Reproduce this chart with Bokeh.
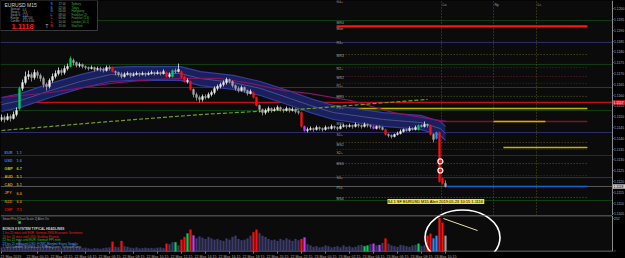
from bokeh.plotting import figure
from bokeh.models import Range1d, FixedTicker, Label, ColumnDataSource, NumeralTickFormatter, LinearAxis
from bokeh.layouts import column
from bokeh.embed import file_html
from bokeh.resources import INLINE
from bokeh.core.properties import value

# ---------------- data: EURUSD M15 candles (bar index 0..148) ----------------
opens = [1.11487,1.11496,1.11487,1.11501,1.11492,1.11510,1.11538,1.11631,1.11658,1.11686,
 1.11695,1.11681,1.11705,1.11691,1.11677,1.11649,1.11640,1.11668,1.11686,1.11700,
 1.11714,1.11705,1.11723,1.11732,1.11760,1.11751,1.11737,1.11742,1.11732,1.11728,
 1.11723,1.11728,1.11719,1.11723,1.11719,1.11714,1.11728,1.11728,1.11709,1.11705,
 1.11695,1.11686,1.11695,1.11700,1.11691,1.11695,1.11700,1.11695,1.11700,1.11695,
 1.11700,1.11705,1.11700,1.11705,1.11700,1.11705,1.11686,1.11686,1.11714,1.11709,
 1.11709,1.11686,1.11663,1.11663,1.11626,1.11603,1.11589,1.11580,1.11594,1.11589,
 1.11603,1.11612,1.11631,1.11640,1.11649,1.11658,1.11672,1.11663,1.11644,1.11631,
 1.11621,1.11635,1.11621,1.11607,1.11612,1.11589,1.11552,1.11533,1.11519,1.11529,
 1.11538,1.11529,1.11533,1.11543,1.11533,1.11529,1.11538,1.11529,1.11533,1.11524,
 1.11519,1.11455,1.11436,1.11441,1.11445,1.11441,1.11450,1.11445,1.11441,1.11450,
 1.11445,1.11455,1.11450,1.11445,1.11455,1.11459,1.11455,1.11459,1.11455,1.11464,
 1.11459,1.11455,1.11464,1.11459,1.11455,1.11445,1.11455,1.11450,1.11441,1.11418,
 1.11413,1.11408,1.11418,1.11422,1.11431,1.11441,1.11436,1.11445,1.11441,1.11441,
 1.11459,1.11455,1.11464,1.11459,1.11418,1.11399,1.11427,1.11214,1.11191]
closes = [1.11496,1.11487,1.11501,1.11492,1.11510,1.11529,1.11631,1.11658,1.11686,1.11695,
 1.11681,1.11705,1.11691,1.11677,1.11649,1.11640,1.11668,1.11686,1.11700,1.11714,
 1.11705,1.11723,1.11732,1.11769,1.11751,1.11737,1.11742,1.11732,1.11728,1.11723,
 1.11728,1.11719,1.11723,1.11719,1.11714,1.11728,1.11723,1.11709,1.11705,1.11695,
 1.11686,1.11695,1.11700,1.11691,1.11695,1.11700,1.11695,1.11700,1.11695,1.11700,
 1.11705,1.11700,1.11705,1.11700,1.11709,1.11686,1.11695,1.11714,1.11709,1.11719,
 1.11681,1.11663,1.11668,1.11626,1.11603,1.11589,1.11580,1.11594,1.11589,1.11603,
 1.11612,1.11631,1.11640,1.11649,1.11658,1.11672,1.11663,1.11644,1.11631,1.11621,
 1.11635,1.11621,1.11607,1.11617,1.11589,1.11552,1.11533,1.11519,1.11529,1.11538,
 1.11529,1.11533,1.11543,1.11533,1.11529,1.11538,1.11529,1.11533,1.11524,1.11519,
 1.11455,1.11436,1.11441,1.11445,1.11441,1.11450,1.11445,1.11441,1.11450,1.11445,
 1.11455,1.11450,1.11445,1.11455,1.11459,1.11455,1.11459,1.11455,1.11464,1.11459,
 1.11455,1.11464,1.11459,1.11455,1.11445,1.11455,1.11450,1.11441,1.11418,1.11413,
 1.11408,1.11418,1.11422,1.11431,1.11441,1.11436,1.11445,1.11441,1.11450,1.11459,
 1.11455,1.11464,1.11459,1.11418,1.11394,1.11427,1.11200,1.11191,1.11177]
highs = [1.11510,1.11506,1.11515,1.11510,1.11524,1.11543,1.11640,1.11672,1.11709,1.11714,
 1.11705,1.11719,1.11714,1.11700,1.11686,1.11658,1.11677,1.11700,1.11714,1.11728,
 1.11723,1.11737,1.11746,1.11779,1.11769,1.11756,1.11751,1.11746,1.11737,1.11732,
 1.11737,1.11732,1.11732,1.11732,1.11728,1.11737,1.11737,1.11732,1.11714,1.11709,
 1.11705,1.11705,1.11709,1.11705,1.11705,1.11709,1.11705,1.11709,1.11705,1.11709,
 1.11714,1.11709,1.11714,1.11709,1.11719,1.11709,1.11705,1.11719,1.11723,1.11746,
 1.11714,1.11691,1.11677,1.11668,1.11631,1.11612,1.11598,1.11603,1.11603,1.11612,
 1.11621,1.11640,1.11649,1.11658,1.11668,1.11681,1.11677,1.11668,1.11649,1.11640,
 1.11644,1.11640,1.11626,1.11626,1.11617,1.11594,1.11556,1.11538,1.11538,1.11547,
 1.11543,1.11543,1.11552,1.11547,1.11538,1.11547,1.11543,1.11543,1.11538,1.11529,
 1.11524,1.11459,1.11450,1.11455,1.11450,1.11459,1.11455,1.11450,1.11459,1.11455,
 1.11464,1.11459,1.11455,1.11464,1.11468,1.11464,1.11468,1.11464,1.11473,1.11468,
 1.11464,1.11473,1.11468,1.11464,1.11459,1.11459,1.11459,1.11455,1.11445,1.11422,
 1.11418,1.11422,1.11431,1.11441,1.11445,1.11445,1.11455,1.11450,1.11459,1.11464,
 1.11464,1.11478,1.11468,1.11464,1.11422,1.11431,1.11431,1.11218,1.11205]
lows = [1.11478,1.11473,1.11482,1.11478,1.11487,1.11501,1.11529,1.11621,1.11649,1.11672,
 1.11663,1.11672,1.11677,1.11663,1.11635,1.11621,1.11631,1.11658,1.11677,1.11691,
 1.11691,1.11695,1.11714,1.11728,1.11737,1.11728,1.11728,1.11723,1.11719,1.11714,
 1.11719,1.11709,1.11714,1.11709,1.11705,1.11709,1.11714,1.11705,1.11691,1.11686,
 1.11677,1.11681,1.11691,1.11681,1.11686,1.11691,1.11686,1.11691,1.11686,1.11691,
 1.11695,1.11691,1.11695,1.11691,1.11695,1.11681,1.11681,1.11681,1.11700,1.11705,
 1.11677,1.11658,1.11654,1.11621,1.11589,1.11575,1.11566,1.11570,1.11580,1.11584,
 1.11594,1.11603,1.11621,1.11631,1.11640,1.11649,1.11654,1.11635,1.11621,1.11612,
 1.11617,1.11612,1.11598,1.11603,1.11584,1.11547,1.11519,1.11506,1.11510,1.11519,
 1.11519,1.11524,1.11529,1.11524,1.11519,1.11524,1.11519,1.11524,1.11515,1.11510,
 1.11450,1.11431,1.11427,1.11436,1.11431,1.11436,1.11436,1.11431,1.11436,1.11441,
 1.11441,1.11441,1.11436,1.11441,1.11450,1.11445,1.11450,1.11445,1.11450,1.11450,
 1.11445,1.11450,1.11450,1.11445,1.11441,1.11441,1.11441,1.11436,1.11413,1.11404,
 1.11399,1.11404,1.11413,1.11418,1.11427,1.11431,1.11431,1.11436,1.11436,1.11436,
 1.11450,1.11450,1.11450,1.11413,1.11381,1.11394,1.11195,1.11186,1.11172]
candle_signal = {6: "G", 23: "G", 37: "R", 55: "R", 57: "G", 60: "R", 61: "R", 63: "R",
                 84: "R", 85: "R", 100: "R", 101: "M", 124: "M", 128: "R", 139: "G",
                 143: "R", 145: "B", 146: "R", 147: "R"}

volumes = [30,25,35,28,40,45,90,60,50,45, 40,38,35,30,45,50,40,35,30,28,
 25,30,28,35,60,40,30,25,28,22, 20,25,22,20,25,28,30,75,35,30,
 80,40,35,28,25,30,22,25,28,24, 26,22,28,30,25,60,55,70,70,45,
 90,110,137,167,122,100,115,105,95,110, 100,90,95,85,80,100,90,110,120,95,
 85,90,100,120,147,167,140,120,110,95, 85,90,80,95,85,100,90,80,95,85,
 95,106,55,45,35,40,30,35,45,40, 30,35,40,30,45,35,40,30,35,45,
 50,40,45,55,60,45,50,65,100,60, 45,40,35,50,45,40,35,45,50,60,
 40,45,120,135,100,120,255,220,120]
volume_signal = {37: "R", 40: "R", 55: "R", 58: "G", 60: "R", 61: "R", 62: "G", 63: "R",
                 64: "M", 84: "R", 85: "R", 100: "R", 101: "M", 121: "G", 122: "G",
                 124: "M", 126: "M", 128: "R", 139: "G", 142: "R", 143: "R", 144: "B",
                 145: "B", 146: "R", 147: "R", 148: "W"}

# indicator ribbon (bar index, upper, centre, lower)
ribbon_x = [0, 6.3, 16.3, 26.3, 36.3, 44, 59.7, 66.3, 77.3, 86.3, 96.3, 103, 110.7, 127.3, 139.7, 146.3, 148]
ribbon_up = [1.11589,1.11607,1.11654,1.11695,1.11728,1.11732,1.11732,1.11709,1.11691,1.11663,
             1.11617,1.11584,1.11552,1.11519,1.11506,1.11478,1.11455]
ribbon_mid = [1.11556,1.11575,1.11621,1.11663,1.11695,1.11700,1.11700,1.11677,1.11658,1.11631,
              1.11584,1.11552,1.11519,1.11487,1.11473,1.11445,1.11422]
ribbon_lo = [1.11524,1.11543,1.11589,1.11631,1.11663,1.11668,1.11668,1.11644,1.11626,1.11598,
             1.11552,1.11519,1.11487,1.11455,1.11441,1.11413,1.11390]
slow_ma_x = [0, 16.3, 36.3, 49.7, 62, 73, 83, 94, 103, 116.3, 130.7, 146.3, 148.3]
slow_ma = [1.11589,1.11612,1.11654,1.11672,1.11677,1.11677,1.11654,1.11621,1.11607,1.11575,
           1.11519,1.11482,1.11478]
trend_x = [0, 36.3, 66.3, 103, 142]
trend = [1.11436, 1.11478, 1.11510, 1.11538, 1.11580]

# horizontal levels
full_levels = [1.11945, 1.11844, 1.11742, 1.11635, 1.11566, 1.11529, 1.11427, 1.11320, 1.11218, 1.11177, 1.11112]
full_colors = ["#123f12", "#2e2e72", "#123f12", "#2e2e72", "#c41010", "#123f12", "#2e2e72",
               "#123f12", "#2e2e72", "#5a5a5a", "#123f12"]
full_widths = [1, 1, 1, 1, 1.3, 1, 1, 1, 1, 1, 1]
dotted_levels = [1.11788, 1.11728, 1.11686, 1.11654, 1.11594, 1.11381, 1.11348, 1.11283, 1.11228, 1.11126]
dotted_colors = ["#5e5e1e", "#6e1a2c", "#6e1a2c", "#6e1a2c", "#5e5e1e", "#5e5e1e", "#2e2e78",
                 "#5e5e1e", "#2e2e78", "#5e5e1e"]
pivot_start, pivot_end = 111.7, 195.3
solid_levels = [1.11918, 1.11538, 1.11478, 1.11478, 1.11357, 1.11177]
solid_start = [111.7, 111.7, 146.3, 164.0, 167.3, 148.3]
solid_end = [195.3, 195.3, 195.3, 181.3, 195.3, 195.3]
solid_colors = ["#ff1414", "#c8b400", "#7c1222", "#c8b400", "#c8b400", "#1464d2"]
solid_widths = [2.2, 1.5, 1.6, 1.6, 1.5, 1.5]
pivot_labels = ["R4+", "MR4", "Mon", "R3+", "MR3", "R2+", "MR2", "R1+", "MR1", "PV+", "MS1", "S1+",
                "MS2", "S2+", "MS3", "S3+", "PDL", "MS4"]
pivot_label_prices = [1.12029, 1.11932, 1.11908, 1.11839, 1.11779, 1.11719, 1.11681, 1.11644,
                      1.11589, 1.11538, 1.11468, 1.11413, 1.11371, 1.11334, 1.11283, 1.11218,
                      1.11168, 1.11121]
session_x = [146.67, 164.0, 178.33]
session_names = ["Lo", "Ny", "Lc"]
alert_x = [146.3, 146.3]
alert_p = [1.11293, 1.11251]
# price markers on the scale: (price, text, box colour, text colour)
marker_price = [1.11566, 1.11177]
marker_text = ["1.1157", "1.1118"]
marker_fill = ["#e01010", "#c8c8c8"]
marker_tcol = ["#ffffff", "#000000"]

price_ticks = [1.1105, 1.1110, 1.1115, 1.1120, 1.1125, 1.1130, 1.1135, 1.1140, 1.1145, 1.1150,
               1.1155, 1.1160, 1.1165, 1.1170, 1.1175, 1.1180, 1.1185, 1.1190, 1.1195, 1.1200]
time_ticks = [0, 12, 20, 28, 36, 44, 52, 60, 68, 76, 84, 92, 100, 108, 116, 124, 132, 140, 148]
time_labels = ["21 May 2019", "22 May 00:15", "22 May 02:15", "22 May 04:15", "22 May 06:15",
               "22 May 08:15", "22 May 10:15", "22 May 12:15", "22 May 14:15", "22 May 16:15",
               "22 May 18:15", "22 May 20:15", "22 May 22:15", "23 May 00:15", "23 May 02:15",
               "23 May 04:15", "23 May 06:15", "23 May 08:15", "23 May 10:15"]

strength_ccy = ["EUR", "USD", "GBP", "AUD", "CAD", "JPY", "NZD", "CHF"]
strength_val = ["1.1", "1.6", "6.7", "5.1", "5.1", "6.6", "6.6", "7.1"]
strength_col = ["#2f7fd8", "#2f7fd8", "#c8c800", "#d0a800", "#d09000", "#d08000", "#c87000", "#e01010"]

sessions_tbl = ["Sydney", "Tokyo", "Hongkong", "Frankfurt (2)", "Frankfurt (1.4)", "London (10.1)", "NewYork"]
session_open = ["17:00", "02:00", "03:00", "08:00", "09:00", "10:00", "15:00"]
session_flag = ["S", "S", "S", "L", "L", "L", "N"]
session_flag_col = ["#3070d0", "#3070d0", "#3070d0", "#3070d0", "#d02020", "#d02020", "#d02020"]

news = ["1 hrs 21 mins until EUR: German ZEW Economic Sentiment",
        "20 hrs 21 mins until USD: Building Permits",
        "22 hrs 21 mins until EUR: German PPI m/m",
        "23 hrs 21 mins until USD: FOMC Member Evans Speaks"]
news_col = ["#e02020", "#e02020", "#20c020", "#3aa0ff"]

FONT = value("Liberation Sans")
SIG = {"G": "#00d060", "R": "#ff1010", "M": "#c040ff", "B": "#2a8cff", "W": "#a0a0a0"}

# screen helpers for overlay panels (MT4 draws these in pixel space)
def X(px):
    return (px - 1) / 3.0

def P(py):
    return 1.12038 - py * 0.0000463

def V(py):
    return (251 - py) * 275 / 36.0

n = len(opens)
idx = list(range(n))
ccol = []
for i in idx:
    if i in candle_signal:
        ccol.append(SIG[candle_signal[i]])
    elif closes[i] >= opens[i]:
        ccol.append("#ececec")
    else:
        ccol.append("#a4a4a4")
vcol = [SIG[volume_signal[i]] if i in volume_signal else "#3c3c6c" for i in idx]

# the frame spans the whole window; the price scale sits at the right edge of the chart area
xr = Range1d(-1 / 3.0, 624 / 3.0)
AXIS_X = X(611.5)


def style_axis(a, size):
    a.major_label_text_font_size = size
    a.major_label_text_font = "Liberation Sans"
    a.major_label_text_color = "#b4b4b4"
    a.axis_line_color = "#8a8a8a"
    a.major_tick_line_color = "#8a8a8a"
    a.major_tick_out = 1
    a.major_tick_in = 0
    a.minor_tick_line_color = None
    a.major_label_standoff = 1


main = figure(frame_width=625, frame_height=215, x_range=xr, y_range=Range1d(P(215), P(0)),
              x_axis_location=None, y_axis_location=None, toolbar_location=None,
              output_backend="svg", min_border=0, background_fill_color="#0b0b0b",
              border_fill_color="#000000", outline_line_color=None)
main.grid.visible = False
pax = LinearAxis(fixed_location=AXIS_X, ticker=FixedTicker(ticks=price_ticks),
                 formatter=NumeralTickFormatter(format="0.0000"))
style_axis(pax, "3.4px")
main.add_layout(pax, "right")
# axis-area background
main.quad(left=[AXIS_X], right=[X(626)], top=[P(0)], bottom=[P(215)], fill_color="#000000",
          line_color=None)

# levels
main.segment(x0=[xr.start] * len(full_levels), x1=[AXIS_X] * len(full_levels), y0=full_levels,
             y1=full_levels, line_color=full_colors, line_width=full_widths)
main.segment(x0=session_x, x1=session_x, y0=[P(215)] * 3, y1=[P(0)] * 3, line_color="#55551c",
             line_width=1, line_dash="1 2")
main.segment(x0=[pivot_start] * len(dotted_levels), x1=[pivot_end] * len(dotted_levels),
             y0=dotted_levels, y1=dotted_levels, line_color=dotted_colors, line_width=1, line_dash="1 2")
main.segment(x0=solid_start, x1=solid_end, y0=solid_levels, y1=solid_levels,
             line_color=solid_colors, line_width=solid_widths)

# ribbon and averages
main.varea(x=ribbon_x, y1=ribbon_lo, y2=ribbon_up, fill_color="#1a2262", fill_alpha=0.95)
main.line(ribbon_x, ribbon_up, line_color="#323e9c", line_width=1.2)
main.line(ribbon_x, ribbon_lo, line_color="#323e9c", line_width=1.2)
main.line(ribbon_x, ribbon_mid, line_color="#565c94", line_width=0.8)
main.line(slow_ma_x, slow_ma, line_color="#8a1262", line_width=1.2)
main.line(trend_x, trend, line_color="#6aa020", line_width=1.2, line_dash="4 2")

# candles
src = ColumnDataSource(dict(x=idx, o=opens, c=closes, h=highs, l=lows, col=ccol))
main.segment(x0="x", x1="x", y0="l", y1="h", line_color="col", line_width=0.8, source=src)
main.vbar(x="x", bottom="o", top="c", width=0.62, fill_color="col", line_color="col",
          line_width=0.4, source=src)
main.scatter(alert_x, alert_p, size=5, fill_color="#ff1010", line_color="white", line_width=1.2)

# price markers on the scale
main.quad(left=[X(612)] * 2, right=[X(626)] * 2, top=[p + 2.2 * 0.0000463 for p in marker_price],
          bottom=[p - 2.2 * 0.0000463 for p in marker_price], fill_color=marker_fill, line_color=None)
main.text(x=[X(613)] * 2, y=marker_price, text=marker_text, text_font=FONT, text_font_size="3.4px",
          text_color=marker_tcol, text_baseline="middle")

# pivot labels
main.text(x=[X(336)] * len(pivot_labels), y=pivot_label_prices, text=pivot_labels,
          text_font=FONT, text_font_size="3.5px", text_color="#a0a0a0", text_baseline="middle")
main.text(x=session_x, y=[P(4)] * 3, text=session_names, text_font=FONT, text_font_size="3.5px",
          text_color="#a0a0a0", text_baseline="middle", x_offset=1)

# info panel
main.quad(left=[-0.4], right=[X(97)], top=[P(0)], bottom=[P(30)], fill_color="#000000",
          line_color="#3a3a3a", line_width=1)
main.text(x=[X(4)], y=[P(4)], text=["EURUSD  M15"], text_font=FONT, text_font_size="5px",
          text_color="#d8d8d8", text_baseline="middle")
main.text(x=[X(10)] * 5, y=[P(8.5), P(11.5), P(14.5), P(17.5), P(20.5)],
          text=["Spread:", "Swap L:", "Swap S:", "Range:", "Candle:"], text_font=FONT,
          text_font_size="2.8px", text_color="#a0a0a0", text_baseline="middle")
main.text(x=[X(22)] * 5, y=[P(8.5), P(11.5), P(14.5), P(17.5), P(20.5)],
          text=["0.6", "-6.6", "1.04", "140  100", "4:56  4:00"], text_font=FONT,
          text_font_size="2.8px", text_color="#a0a0a0", text_baseline="middle")
main.text(x=[X(11)], y=[P(25.5)], text=["1.1118"], text_font=FONT, text_font_size="7.5px",
          text_font_style="bold", text_color="#ff1a1a", text_baseline="middle")
main.text(x=[X(45)], y=[P(26)], text=["T"], text_font=FONT, text_font_size="4.5px",
          text_color="#c0c0c0", text_baseline="middle")
rows = [P(3.5), P(7), P(10.5), P(14), P(17.5), P(21), P(25)]
main.text(x=[X(50)] * 7, y=rows, text=session_flag, text_font=FONT, text_font_size="3.4px",
          text_font_style="bold", text_color=session_flag_col, text_baseline="middle")
main.text(x=[X(58)] * 7, y=rows, text=session_open, text_font=FONT, text_font_size="2.8px",
          text_color="#b0a070", text_baseline="middle")
main.text(x=[X(71)] * 7, y=rows, text=sessions_tbl, text_font=FONT, text_font_size="2.8px",
          text_color="#3cb83c", text_baseline="middle")

# currency strength
srows = [P(152), P(160), P(168), P(176), P(184), P(192.5), P(201), P(209)]
main.text(x=[X(4)] * 8, y=srows, text=strength_ccy, text_font=FONT, text_font_size="3.8px",
          text_font_style="bold", text_color=strength_col, text_baseline="middle")
main.text(x=[X(16)] * 8, y=srows, text=strength_val, text_font=FONT, text_font_size="3.8px",
          text_font_style="bold", text_color=strength_col, text_baseline="middle")

# alert box
main.add_layout(Label(x=X(387), y=P(201), text="S4 1 SF EURUSD M15 Alert 2019.05.23 10:15  1.1116",
                      text_font="Liberation Sans", text_font_size="4px", text_color="#000000",
                      text_baseline="middle", background_fill_color="#f0e040"))
main.ellipse(x=[X(462)], y=[P(237)], width=[25], height=[55 * 0.0000463], fill_color=None,
             line_color="#ffffff", line_width=1.6)

# ---------------- volume sub-window ----------------
vol = figure(frame_width=625, frame_height=36, x_range=xr, y_range=Range1d(0, 275),
             x_axis_location="below", y_axis_location=None, toolbar_location=None,
             output_backend="svg", min_border=0, background_fill_color="#0b0b0b",
             border_fill_color="#000000", outline_line_color=None)
vol.grid.visible = False
vax = LinearAxis(fixed_location=AXIS_X, ticker=FixedTicker(ticks=[0, 252]))
style_axis(vax, "3.4px")
vol.add_layout(vax, "right")
vol.quad(left=[AXIS_X], right=[X(626)], top=[275], bottom=[0], fill_color="#000000", line_color=None)
vol.segment(x0=[xr.start, xr.start], x1=[AXIS_X, AXIS_X], y0=[274, 0.5], y1=[274, 0.5],
            line_color="#8a8a8a", line_width=1.2)
vx = vol.xaxis[0]
vx.ticker = FixedTicker(ticks=time_ticks)
vx.major_label_overrides = {t: s for t, s in zip(time_ticks, time_labels)}
vx.major_label_text_font_size = "3.6px"
vx.major_label_text_font = "Liberation Sans"
vx.major_label_text_color = "#a8a8a8"
vx.major_label_text_align = "left"
vx.axis_line_color = None
vx.major_tick_line_color = "#7a7a7a"
vx.major_tick_out = 2
vx.major_tick_in = 0
vx.minor_tick_line_color = None
vx.major_label_standoff = 1

vol.vbar(x=idx, top=volumes, bottom=0, width=0.62, fill_color=vcol, line_color=vcol, line_width=0.3)
vol.line([147.3, 158.7], [252, 160], line_color="#e8e0a0", line_width=1)
vol.ellipse(x=[X(462)], y=[V(237)], width=[25], height=[55 * 275 / 36.0], fill_color=None,
            line_color="#ffffff", line_width=1.6)

vol.text(x=[X(2)], y=[V(218.5)], text=["Smart Pris   [Chart Scale 2]   Alert On"], text_font=FONT,
         text_font_size="3px", text_color="#a0a0a0", text_baseline="middle")
vol.scatter(x=[X(19)], y=[V(222)], marker="square", size=2.5, fill_color="#20d040", line_color=None)
vol.text(x=[X(2)], y=[V(228)], text=["BONUS 8 SYSTEM TYPICAL HEADLINES"], text_font=FONT,
         text_font_size="3.2px", text_font_style="bold", text_color="#d0d0d0", text_baseline="middle")
vol.text(x=[X(2)] * 4, y=[V(232.5), V(236), V(239.5), V(243)], text=news, text_font=FONT,
         text_font_size="3px", text_color=news_col, text_baseline="middle")
vol.text(x=[X(2)], y=[V(246.5)], text=["1.3200 London, (c) 2001-2019, MetaQuotes Software Corp."],
         text_font=FONT, text_font_size="3px", text_color="#9a9a9a", text_baseline="middle")

layout = column(main, vol, spacing=0)
layout.background = "#000000"
open("out.html", "w").write(file_html(layout, INLINE))
